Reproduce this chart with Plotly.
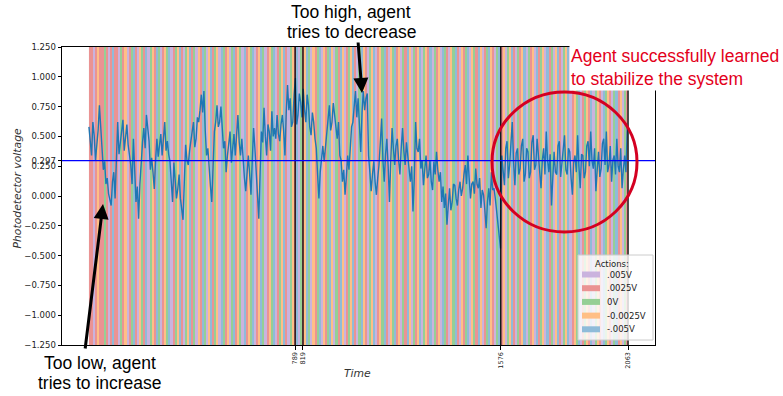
import numpy as np
import plotly.graph_objects as go

# ---------------- data ----------------
time_step = 5
voltage = [
    # t = 0 .. 515
    0.58, 0.45, 0.34, 0.62, 0.51, 0.30, 0.43, 0.55, 0.76, 0.52,
    0.40, 0.22, 0.29, 0.10, 0.15, 0.02, -0.05, -0.08, 0.12, 0.20,
    -0.02, 0.40, 0.62, 0.35, 0.46, 0.55, 0.64, 0.38, 0.48, 0.60,
    0.43, 0.34, 0.26, 0.10, 0.48, 0.22, -0.05, 0.08, -0.19, 0.10,
    0.34, 0.45, 0.57, 0.40, 0.68, 0.55, 0.46, 0.22, 0.32, 0.20,
    0.06, 0.30, 0.48, 0.33, 0.43, 0.52, 0.34, 0.47, 0.62, 0.38,
    0.46, 0.35, 0.29, 0.12, -0.05, 0.28, 0.15, -0.02, 0.06, 0.18,
    -0.02, -0.12, -0.20, 0.12, 0.43, 0.30, 0.26, 0.38, 0.46, 0.55,
    0.62, 0.41, 0.48, 0.66, 0.62, 0.72, 0.85, 0.70, 0.88, 0.55,
    0.34, 0.40, 0.20, 0.08, -0.05, 0.25, 0.54, 0.62, 0.76, 0.58,
    0.62, 0.75, 0.60, 0.40,
    # t = 520 .. 1035
    0.46, 0.20, 0.34, 0.45, 0.54, 0.28, 0.40, 0.52, 0.34, 0.50,
    0.68, 0.45, 0.34, 0.48, 0.26, 0.15, 0.04, 0.20, 0.34, 0.18,
    0.01, 0.30, 0.57, 0.40, 0.23, 0.05, -0.19, 0.20, 0.54, 0.45,
    0.74, 0.50, 0.34, 0.60, 0.54, 0.38, 0.71, 0.50, 0.57, 0.48,
    0.68, 0.52, 0.46, 0.60, 0.68, 0.55, 0.34, 0.70, 0.93, 0.72,
    0.82, 0.58, 0.62, 0.85, 0.99, 0.60, 0.68, 0.86, 0.79, 0.66,
    0.90, 0.72, 0.62, 0.85, 0.76, 0.58, 0.51, 0.70, 0.62, 0.48,
    0.40, 0.18, -0.02, 0.20, 0.34, 0.42, 0.29, 0.40, 0.48, 0.60,
    0.76, 0.55, 0.62, 0.78, 0.68, 0.56, 0.48, 0.62, 0.34, 0.30,
    0.12, 0.22, 0.01, 0.16, 0.34, 0.22, 0.40, 0.58, 0.62, 0.75,
    0.88, 0.66, 0.82, 0.60,
    # t = 1040 .. 1545
    0.37, 0.70, 0.88, 0.72, 0.82, 0.86, 0.34, 0.20, 0.04, 0.18,
    0.29, 0.12, 0.01, 0.15, 0.26, 0.45, 0.65, 0.30, 0.12, 0.35,
    0.48, 0.25, -0.05, 0.30, 0.57, 0.40, 0.26, 0.42, 0.48, 0.30,
    0.18, 0.40, 0.57, 0.38, 0.26, 0.45, 0.34, 0.20, 0.12, 0.25,
    -0.13, 0.15, 0.62, 0.40, 0.37, 0.48, 0.23, 0.30, 0.09, 0.22,
    0.34, 0.15, 0.18, 0.30, 0.12, 0.05, 0.29, 0.18, 0.37, 0.22,
    0.12, 0.20, -0.05, 0.08, -0.10, 0.02, -0.24, -0.08, 0.065, -0.12,
    -0.05, 0.10, 0.09, -0.02, -0.08, 0.05, 0.12, 0.00, 0.065, 0.18,
    0.26, 0.10, 0.34, 0.15, -0.02, 0.10, 0.12, 0.02, 0.23, 0.10,
    0.065, 0.15, -0.10, 0.05, 0.01, -0.12, -0.27, -0.05, 0.065, -0.08,
    0.20, 0.05,
    # t = 1550 .. 2060
    0.065, -0.02, -0.13, -0.25, -0.38, -0.44, 0.34, 0.20, 0.09, 0.40,
    0.46, 0.15, 0.26, 0.45, 0.62, 0.28, 0.09, 0.36, 0.40, 0.18,
    0.23, 0.42, 0.48, 0.12, 0.18, 0.40, 0.37, 0.15, 0.20, 0.45,
    0.51, 0.22, 0.26, 0.48, 0.37, 0.20, 0.065, 0.30, 0.40, 0.18,
    0.54, 0.30, 0.20, 0.35, -0.08, 0.12, 0.37, 0.20, 0.18, 0.42,
    0.46, 0.16, 0.29, 0.44, 0.51, 0.22, 0.18, 0.40, 0.37, 0.15,
    0.01, 0.28, 0.34, 0.20, 0.51, 0.25, 0.065, 0.35, 0.34, 0.15,
    0.20, 0.42, 0.46, 0.25, 0.54, 0.30, 0.23, 0.40, 0.04, 0.22,
    0.37, 0.16, 0.23, 0.44, 0.48, 0.26, 0.54, 0.20, 0.26, 0.42,
    0.12, 0.30, 0.34, 0.18, 0.48, 0.25, 0.20, 0.40, 0.065, 0.22,
    0.34, 0.20, 0.57,
]

# action index per stripe: 0=.005V 1=.0025V 2=0V 3=-0.0025V 4=-.005V
actions = [
    1, 1, 0, 1, 3, 1, 1, 2, 1, 0, 1, 4, 1, 1, 0, 2, 1, 3, 0, 1, 2, 4, 1, 0, 3, 2, 1, 4, 0, 2, 3, 1, 4, 2, 0, 1, 3, 2, 4, 0, 1, 2, 3,
    4, 1, 0, 2, 3, 4, 1, 2, 0, 3, 1, 4, 2, 0, 3, 4, 1, 2, 3, 0, 4, 2, 1, 3, 0, 2, 4, 1, 3, 2, 0, 4, 1, 3, 2, 4, 0, 1, 3, 4, 2, 0, 1,
    3, 2, 4, 0, 1, 2, 3, 4, 1, 0, 2, 3, 1, 4, 0, 2, 1, 3, 4, 2, 0, 3, 1, 2, 4, 0, 3, 1, 2, 4, 3, 0, 2, 1, 4, 3, 0, 1, 2, 3, 4, 1, 0,
    2, 4, 3, 1, 0, 2, 3, 4, 0, 1, 3, 2, 4, 1, 0, 3, 2, 4, 1, 3, 0, 2, 1, 4, 3, 0, 2, 1, 3, 4, 0, 2, 3, 1, 4, 0, 2, 1, 3, 0, 4, 2, 1,
    0, 3, 2, 4, 1, 0, 3, 1, 2, 4, 0, 3, 2, 1, 4, 3, 0, 1, 2, 4, 3, 1, 0, 2, 4, 1, 3, 0, 2, 3, 4, 1, 0, 2, 1, 3, 4, 0, 2, 1, 3, 0, 4,
    1, 2, 3, 0, 4, 1, 2, 0, 3, 4, 1, 0, 2, 3, 4, 0, 1, 3, 2, 4, 0, 1, 2, 3, 1, 4, 0, 2, 3, 1, 0, 4, 2, 3, 1, 0, 2, 4, 1, 3, 0, 2, 1,
]
action_labels = [".005V", ".0025V", "0V", "-0.0025V", "-.005V"]
action_colors = ["#cab3de", "#ea9393", "#95cf95", "#ffbf86", "#8fbbd9"]

marker_times = [789, 819, 1576, 2063]
target_voltage = 0.297
x_end = 2063
y_tick_vals = [-1.25, -1.0, -0.75, -0.5, -0.25, 0.0, 0.25, 0.5, 0.75, 1.0, 1.25]

# ---------------- layout geometry ----------------
W, H = 783, 396
L, R, T, B = 62, 655, 47, 345
x_pad = 0.05 * x_end
x_range = [-x_pad, x_end + x_pad]
y_range = [-1.25, 1.25]


def px(xp):
    return (xp - L) / (R - L)


def py(yp):
    return (B - yp) / (B - T)


def dx(xp):
    return x_range[0] + (xp - L) / (R - L) * (x_range[1] - x_range[0])


def dy(yp):
    return y_range[0] + (B - yp) / (B - T) * (y_range[1] - y_range[0])


t = np.arange(len(voltage)) * time_step
edges = np.linspace(0, x_end, len(actions) + 1)

n = len(action_colors)
colorscale = []
for i, c in enumerate(action_colors):
    colorscale.append([i / n, c])
    colorscale.append([(i + 1) / n, c])

fig = go.Figure()
fig.add_trace(go.Heatmap(
    x=edges, y=y_range, z=[actions], zmin=-0.5, zmax=n - 0.5,
    colorscale=colorscale, showscale=False, hoverinfo="skip", zsmooth=False,
))
fig.add_trace(go.Scatter(
    x=t, y=voltage, mode="lines", line=dict(color="#1f77b4", width=1.4),
    showlegend=False, hoverinfo="skip",
))

shapes = []
for m in marker_times:
    shapes.append(dict(type="line", xref="x", yref="y", x0=m, x1=m, y0=y_range[0], y1=y_range[1],
                       line=dict(color="black", width=1.3), layer="above"))
shapes.append(dict(type="line", xref="paper", yref="y", x0=0, x1=1, y0=target_voltage, y1=target_voltage,
                   line=dict(color="#0000ff", width=1.2), layer="above"))
# red circle
shapes.append(dict(type="circle", xref="x", yref="y", x0=dx(492), x1=dx(637), y0=dy(232), y1=dy(92),
                   line=dict(color="#d40021", width=3), layer="above"))

# manual legend
shapes.append(dict(type="rect", xref="paper", yref="paper", x0=px(578), x1=px(653), y0=py(340), y1=py(255),
                   fillcolor="rgba(255,255,255,0.8)", line=dict(color="#cccccc", width=1), layer="above"))
annotations = []
annotations.append(dict(xref="paper", yref="paper", x=px(612), y=py(263.5), text="Actions:", showarrow=False,
                        xanchor="center", yanchor="middle", font=dict(family="DejaVu Sans", size=8.5, color="#222")))
leg_y = [274.5, 288.2, 301.9, 315.6, 329.3]
for lab, col, yy in zip(action_labels, action_colors, leg_y):
    shapes.append(dict(type="rect", xref="paper", yref="paper", x0=px(582), x1=px(600), y0=py(yy + 3), y1=py(yy - 3),
                       fillcolor=col, line=dict(width=0), layer="above"))
    annotations.append(dict(xref="paper", yref="paper", x=px(605), y=py(yy), text=lab, showarrow=False,
                            xanchor="left", yanchor="middle", font=dict(family="DejaVu Sans", size=8.5, color="#222")))

big = dict(family="Liberation Sans", size=17.5, color="black")
title_font = dict(family="DejaVu Sans", size=10.8, color="#333")
annotations += [
    dict(xref="paper", yref="paper", x=px(351), y=py(12), text="Too high, agent", showarrow=False,
         xanchor="center", yanchor="middle", font=big),
    dict(xref="paper", yref="paper", x=px(351), y=py(31.5), text="tries to decrease", showarrow=False,
         xanchor="center", yanchor="middle", font=big),
    dict(xref="paper", yref="paper", x=px(100), y=py(363), text="Too low, agent", showarrow=False,
         xanchor="center", yanchor="middle", font=big),
    dict(xref="paper", yref="paper", x=px(100), y=py(383), text="tries to increase", showarrow=False,
         xanchor="center", yanchor="middle", font=big),
    # arrows
    dict(xref="x", yref="y", x=dx(362), y=dy(93), ax=-4, ay=-52, text="", showarrow=True,
         arrowhead=2, arrowsize=1, arrowwidth=3, arrowcolor="black", standoff=0),
    dict(xref="x", yref="y", x=dx(103), y=dy(204), ax=-18, ay=146, text="", showarrow=True,
         arrowhead=2, arrowsize=1, arrowwidth=3, arrowcolor="black", standoff=0),
    dict(xref="paper", yref="paper", x=px(569), y=py(67), text="Agent successfully learned<br>to stabilize the system",
         showarrow=False, xanchor="left", yanchor="middle", align="left", bgcolor="white", borderpad=1,
         font=dict(family="Liberation Sans", size=17.5, color="#e3001b")),
    # axis titles
    dict(xref="paper", yref="paper", x=px(16.5), y=py(188), text="<i>Photodetector voltage</i>", showarrow=False,
         textangle=-90, xanchor="center", yanchor="middle", font=title_font),
    dict(xref="paper", yref="paper", x=px(357), y=py(373), text="<i>Time</i>", showarrow=False,
         xanchor="center", yanchor="middle", font=title_font),
]

tick_font = dict(family="DejaVu Sans", size=8.5, color="#222")
y_vals = y_tick_vals + [target_voltage]
y_text = [("%.3f" % v).replace("-", "\u2212") for v in y_vals]

fig.update_layout(
    width=W, height=H, margin=dict(l=L, r=W - R, t=T, b=H - B, autoexpand=False),
    paper_bgcolor="white", plot_bgcolor="white", showlegend=False,
    shapes=shapes, annotations=annotations,
    xaxis=dict(range=x_range, tickvals=marker_times, ticktext=[str(m) for m in marker_times],
               tickangle=-90, tickfont=dict(family="DejaVu Sans", size=6.5, color="#222"),
               ticks="outside", ticklen=3.5, tickcolor="black", showgrid=False, zeroline=False,
               showline=True, mirror=True, linecolor="black", linewidth=1),
    yaxis=dict(range=y_range, tickvals=y_vals, ticktext=y_text, tickfont=tick_font,
               ticks="outside", ticklen=3.5, tickcolor="black", showgrid=False, zeroline=False,
               showline=True, mirror=True, linecolor="black", linewidth=1),
)

fig.write_html("out.html")
